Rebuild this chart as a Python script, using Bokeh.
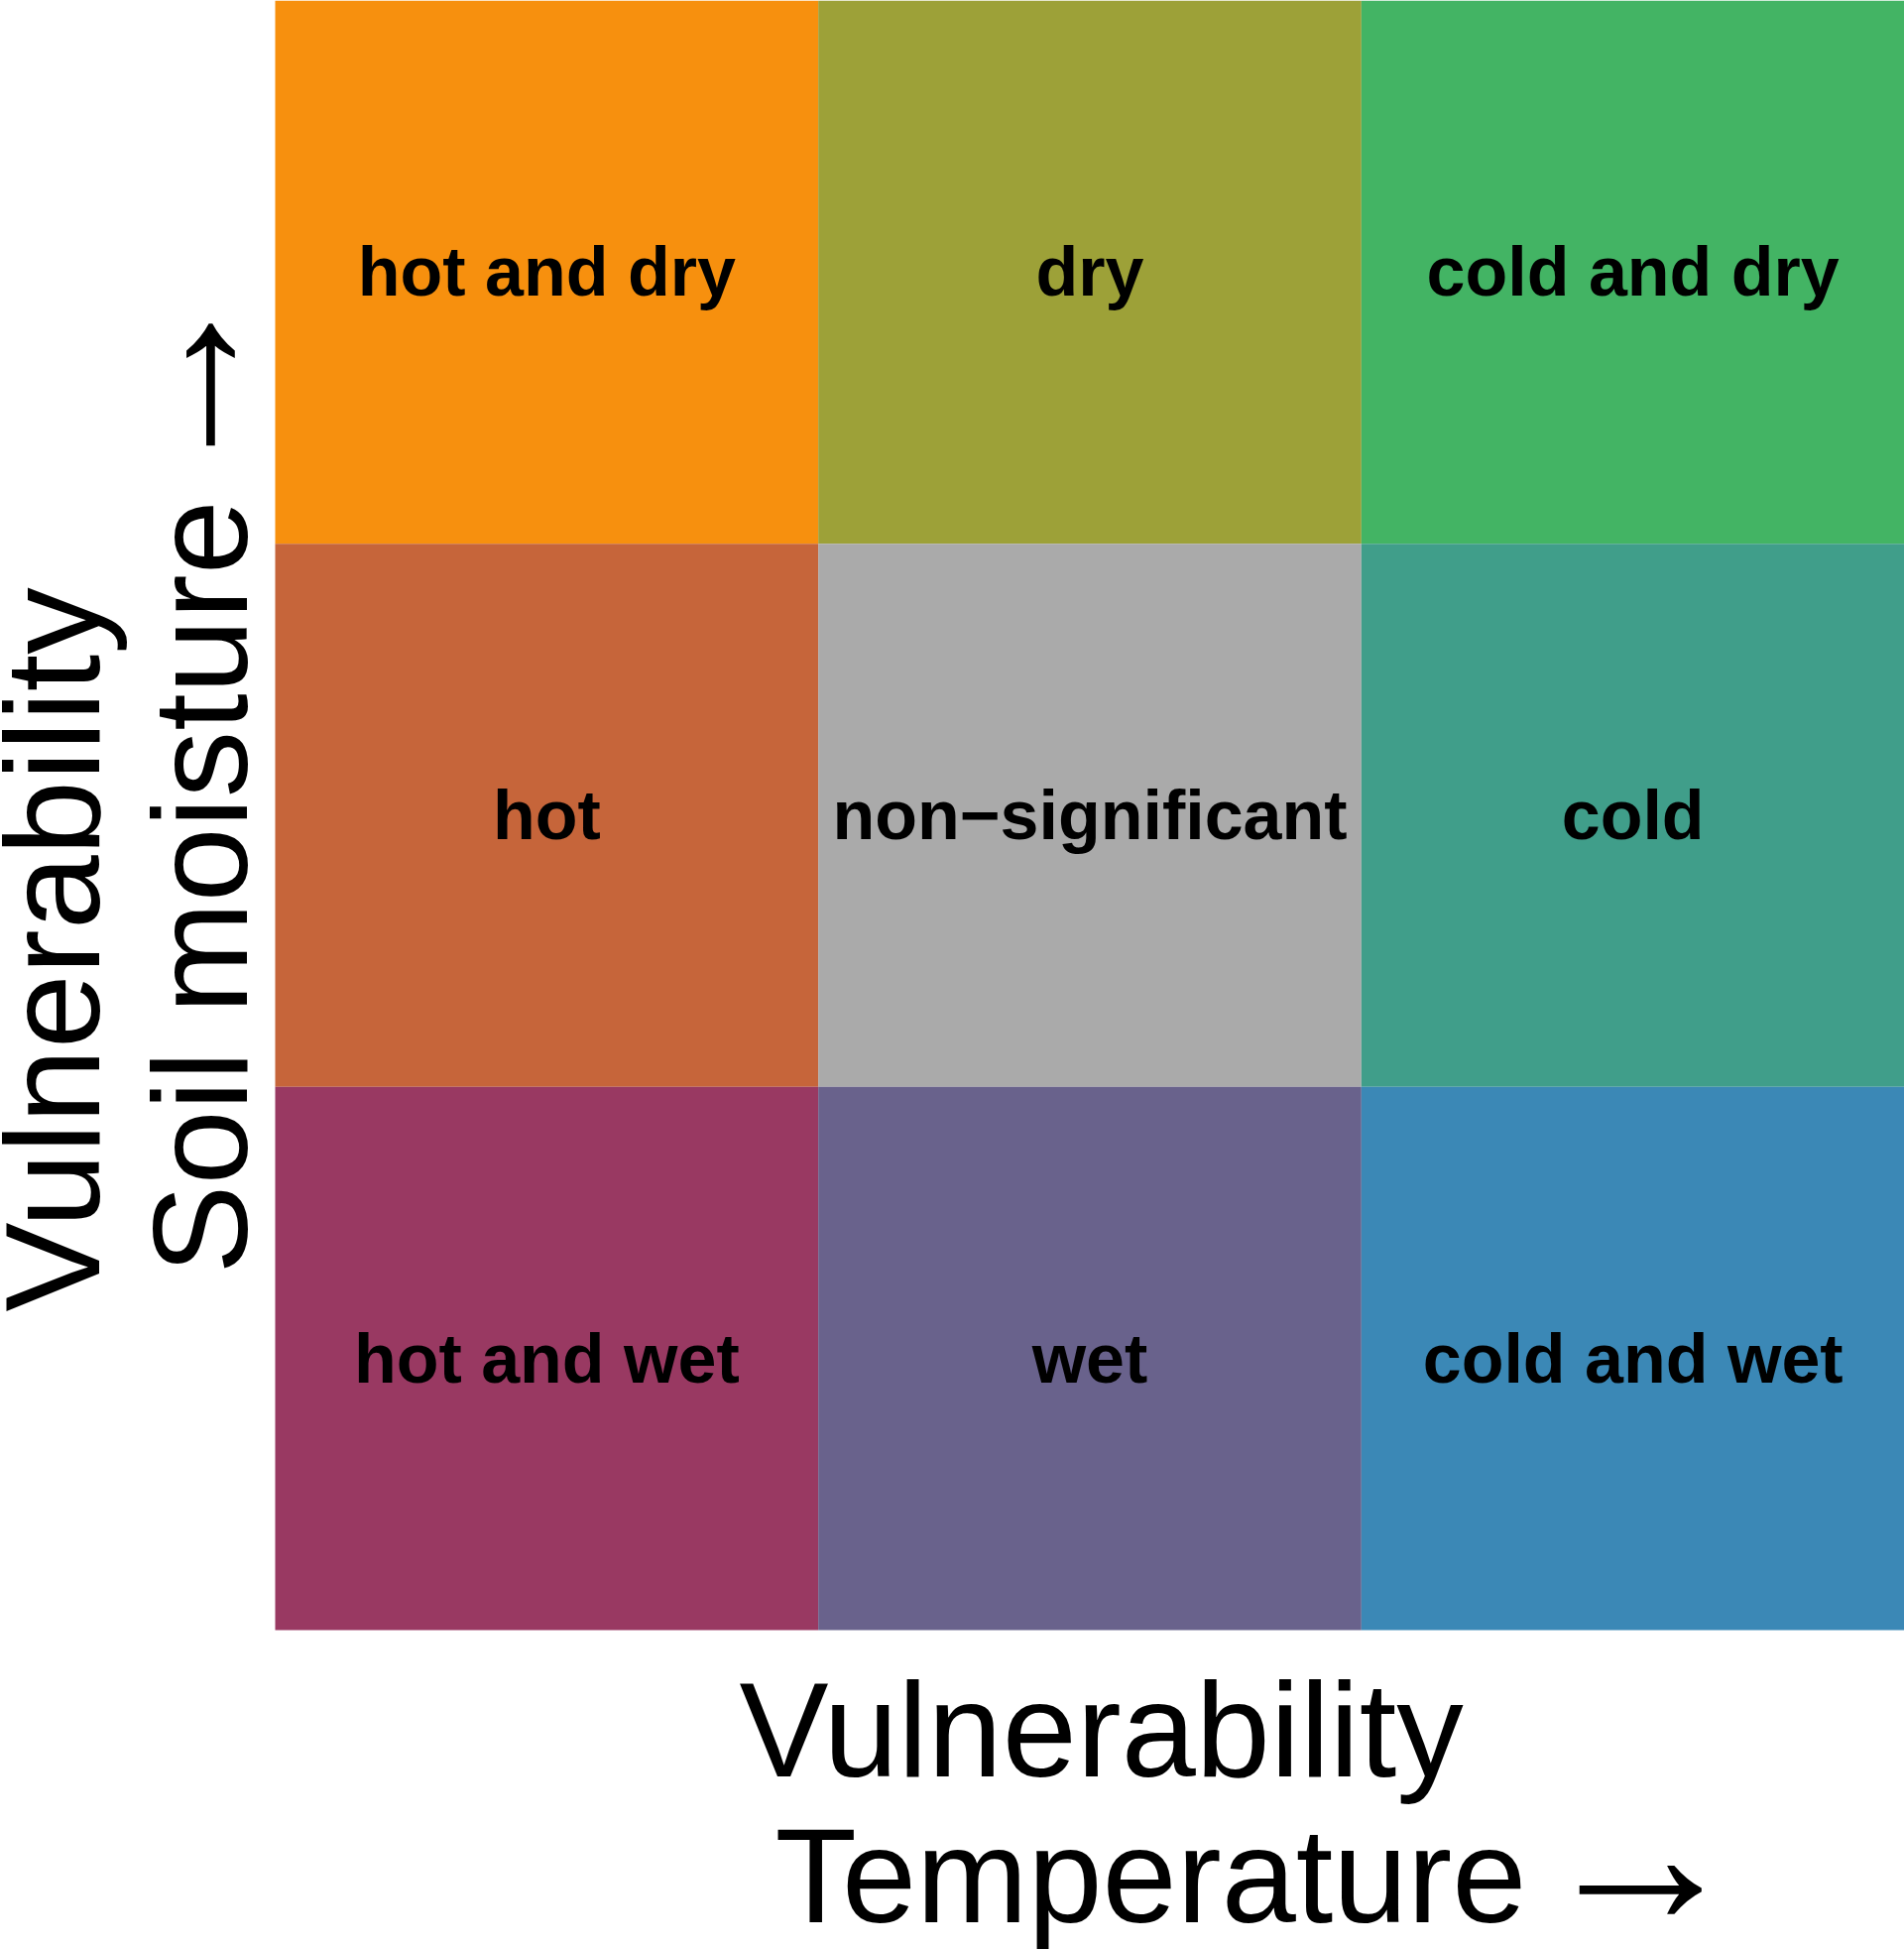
import math
from bokeh.plotting import figure
from bokeh.models import ColumnDataSource, Range1d
from bokeh.core.properties import value
from bokeh.embed import file_html
from bokeh.resources import INLINE

# ---- data ----
temp_classes = ["hot", "neutral", "cold"]          # x, left -> right
moist_classes = ["wet", "normal", "dry"]           # y, bottom -> top

cell_temp = ["hot", "neutral", "cold",
             "hot", "neutral", "cold",
             "hot", "neutral", "cold"]
cell_moist = ["dry", "dry", "dry",
              "normal", "normal", "normal",
              "wet", "wet", "wet"]
cell_label = ["hot and dry", "dry", "cold and dry",
              "hot", "non\u2212significant", "cold",
              "hot and wet", "wet", "cold and wet"]
cell_color = ["#F7900E", "#9DA138", "#43B464",
              "#C6653A", "#AAAAAA", "#409E8A",
              "#993962", "#69628C", "#3B88B6"]

x_title = ["Vulnerability", "Temperature", "\u2192"]
y_title = ["Vulnerability", "Soil moisture", "\u2192"]

# ---- layout (page pixels) ----
W, H = 1920, 1965
PL, PB = 277, 1643                 # left and bottom edge of the grid
UX = (W - PL) / len(temp_classes)  # pixels per class
UY = PB / len(moist_classes)

def dx(px):
    return (px - PL) / UX

def dy(py):
    return (PB - py) / UY

p = figure(width=W, height=H, output_backend="svg", toolbar_location=None,
           x_range=Range1d(dx(0), dx(W)), y_range=Range1d(dy(H), dy(0)),
           min_border=0, min_border_left=0, min_border_right=0,
           min_border_top=0, min_border_bottom=0)
p.axis.visible = False
p.grid.visible = False
p.outline_line_color = None
p.background_fill_color = "white"
p.border_fill_color = "white"

xs = [temp_classes.index(t) + 0.5 for t in cell_temp]
ys = [moist_classes.index(m) + 0.5 for m in cell_moist]
src = ColumnDataSource(dict(x=xs, y=ys, lab=cell_label, col=cell_color))
p.rect(x="x", y="y", width=1, height=1, source=src, fill_color="col", line_color=None)
p.text(x="x", y="y", text="lab", source=src, text_font=value("Liberation Sans"),
       text_font_style="bold", text_font_size="70px", text_align="center",
       text_baseline="middle", text_color="black")

# axis titles (anchored at the em-box middle: baseline - 47px)
TS = "135px"
MID = 47
tsrc = ColumnDataSource(dict(
    x=[dx(745), dx(781), dx(100 - MID), dx(249 - MID)],
    y=[dy(1791 - MID), dy(1938 - MID), dy(1322), dy(1284)],
    t=[x_title[0], x_title[1], y_title[0], y_title[1]],
    a=[0.0, 0.0, math.pi / 2, math.pi / 2],
))
p.text(x="x", y="y", text="t", angle="a", source=tsrc,
       text_font=value("Liberation Sans"), text_font_size=TS,
       text_align="left", text_baseline="middle", text_color="black")

# arrows of the titles
asrc = ColumnDataSource(dict(
    x=[dx(1654), dx(174)],
    y=[dy(1867), dy(387)],
    t=[x_title[2], y_title[2]],
    a=[0.0, math.pi / 2],
))
p.text(x="x", y="y", text="t", angle="a", source=asrc,
       text_font=value("Liberation Sans"), text_font_size="208px",
       text_align="center", text_baseline="middle", text_color="black")

open("out.html", "w").write(file_html(p, INLINE))
